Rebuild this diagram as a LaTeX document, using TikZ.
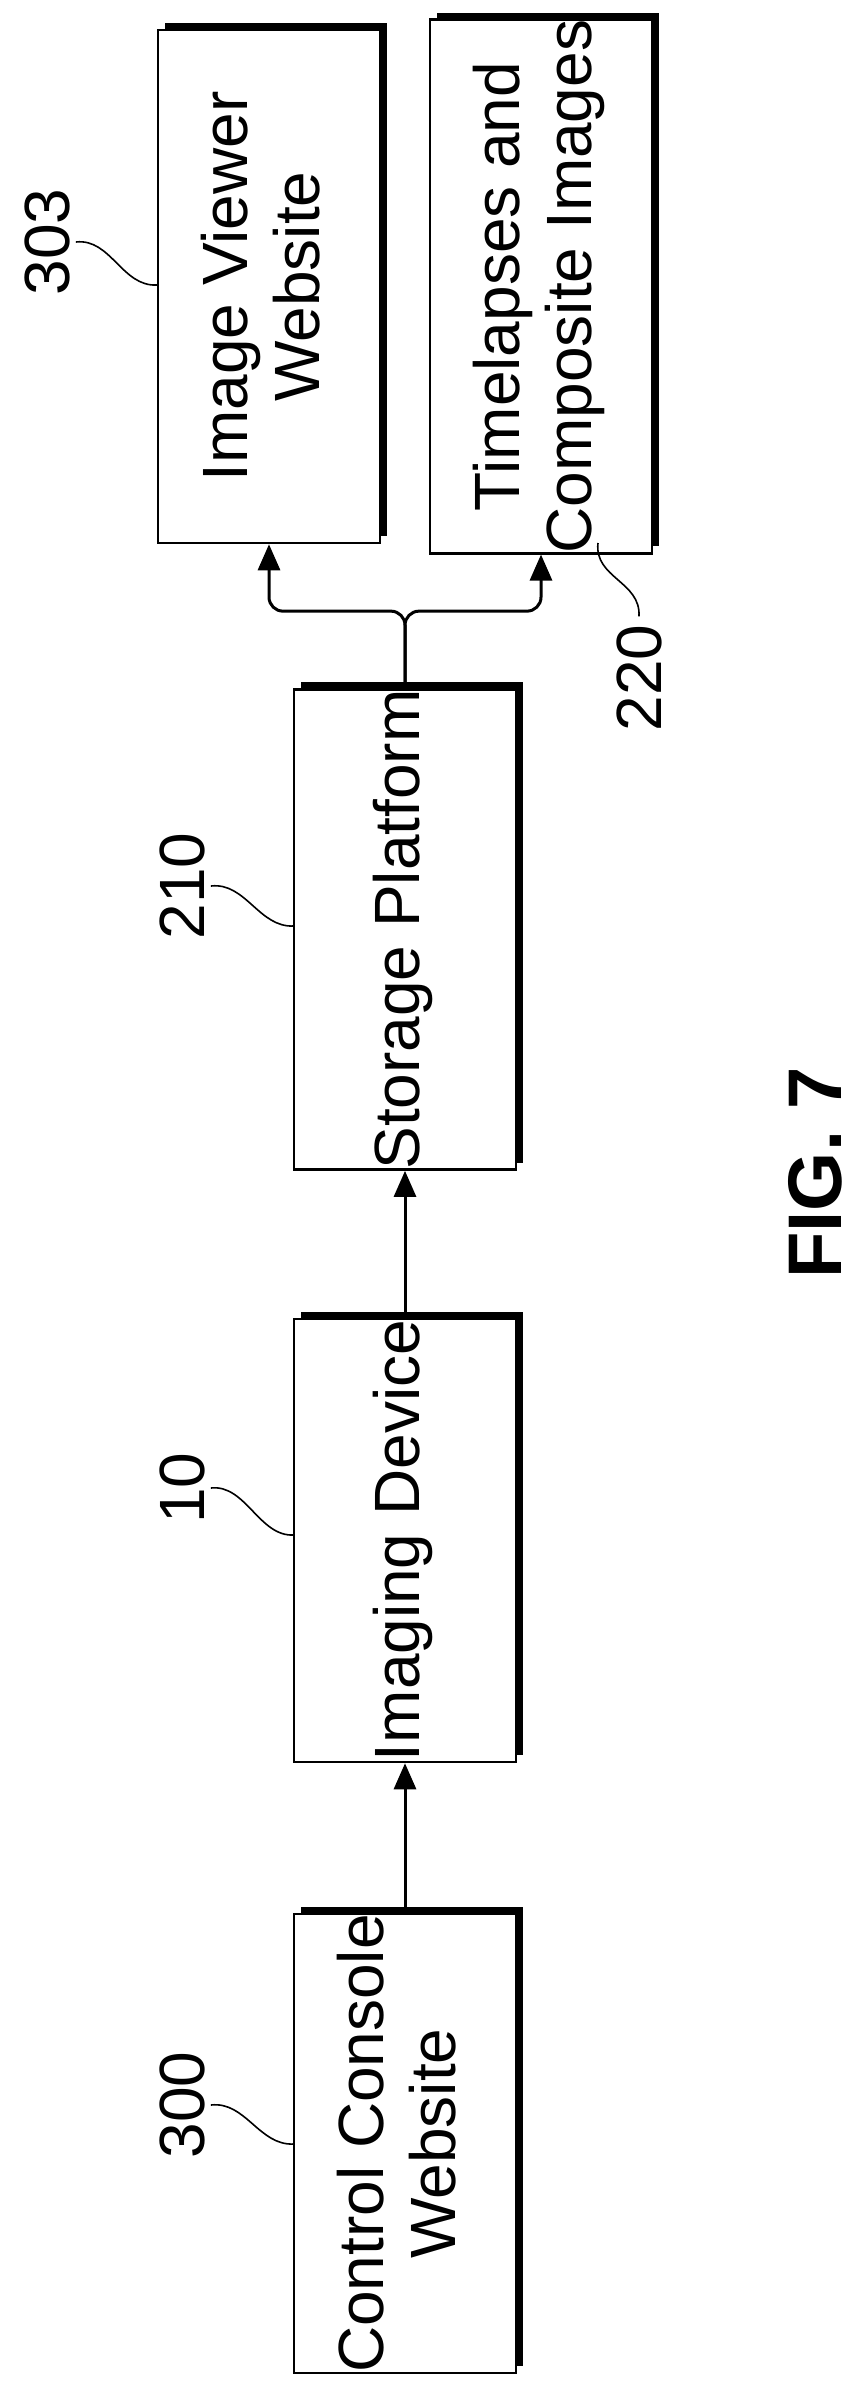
\documentclass[tikz,border=0pt]{standalone}
\usepackage{fontspec}
\setmainfont{Liberation Sans}
\usetikzlibrary{arrows.meta,shadows}

\tikzset{
  block/.style={draw,line width=2.5pt,fill=white,minimum width=222pt,inner sep=0pt,
    drop shadow={shadow xshift=7pt,shadow yshift=7pt,fill=black,opacity=1}},
  refnum/.style={rotate=90,inner sep=0pt,font=\fontsize{64}{72}\selectfont},
  leader/.style={line width=1.6pt},
  flow/.style={line width=3pt,-{Triangle[length=26pt,width=22pt]}}
}
\newcommand{\vtext}[1]{\rotatebox{90}{\begin{tabular}{@{}c@{}}#1\end{tabular}}}

\begin{document}
\begin{tikzpicture}[x=1pt,y=-1pt,font=\fontsize{64}{72}\selectfont]
  \useasboundingbox (0,0) rectangle (855,2383);
  % boxes
  \node[block,minimum height=451pt] (cc) at (405,2143.5) {\vtext{Control Console\\Website}};
  \node[block,minimum height=443pt] (id) at (405,1540.5) {\vtext{Imaging Device}};
  \node[block,minimum height=465pt] (sp) at (405,929.5) {\vtext{Storage Platform}};
  \node[block,minimum height=513pt] (iv) at (269,286.5) {\vtext{Image Viewer\\Website}};
  \node[block,minimum height=513pt] (tc) at (541,286.5) {\vtext{Timelapses and\\Composite Images}};
  % reference numerals
  \node[refnum] (l303) at (47,242) {303};
  \node[refnum] (l220) at (639,678) {220};
  \node[refnum] (l210) at (182,886) {210};
  \node[refnum] (l10) at (182,1488) {10};
  \node[refnum] (l300) at (182,2105) {300};
  \node[rotate=90,inner sep=0pt,font=\fontsize{76}{80}\selectfont\bfseries] (fig) at (815,1173) {FIG. 7};
  % leader end points
  \coordinate (c303) at (157,285);
  \coordinate (c220) at (598,543);
  \coordinate (c210) at (294,926);
  \coordinate (c10) at (294,1535);
  \coordinate (c300) at (294,2144);
  \draw[leader] (l303.south) ++(6,0) .. controls +(35,-4) and +(-35,2) .. (c303);
  \draw[leader] (l210.south) ++(6,0) .. controls +(35,-4) and +(-35,2) .. (c210);
  \draw[leader] (l10.south) ++(6,0) .. controls +(35,-4) and +(-35,2) .. (c10);
  \draw[leader] (l300.south) ++(6,0) .. controls +(35,-4) and +(-35,2) .. (c300);
  \draw[leader] (l220.east) ++(0,-8) .. controls +(2,-35) and +(-4,35) .. (c220);
  % connectors
  \draw[flow] (cc.north) -- (id.south);
  \draw[flow] (id.north) -- (sp.south);
  \draw[flow,rounded corners=14pt] (sp.north) -- ++(0,-77) -| (iv.south);
  \draw[flow,rounded corners=14pt] (sp.north) -- ++(0,-77) -| (tc.south);
\end{tikzpicture}
\end{document}
